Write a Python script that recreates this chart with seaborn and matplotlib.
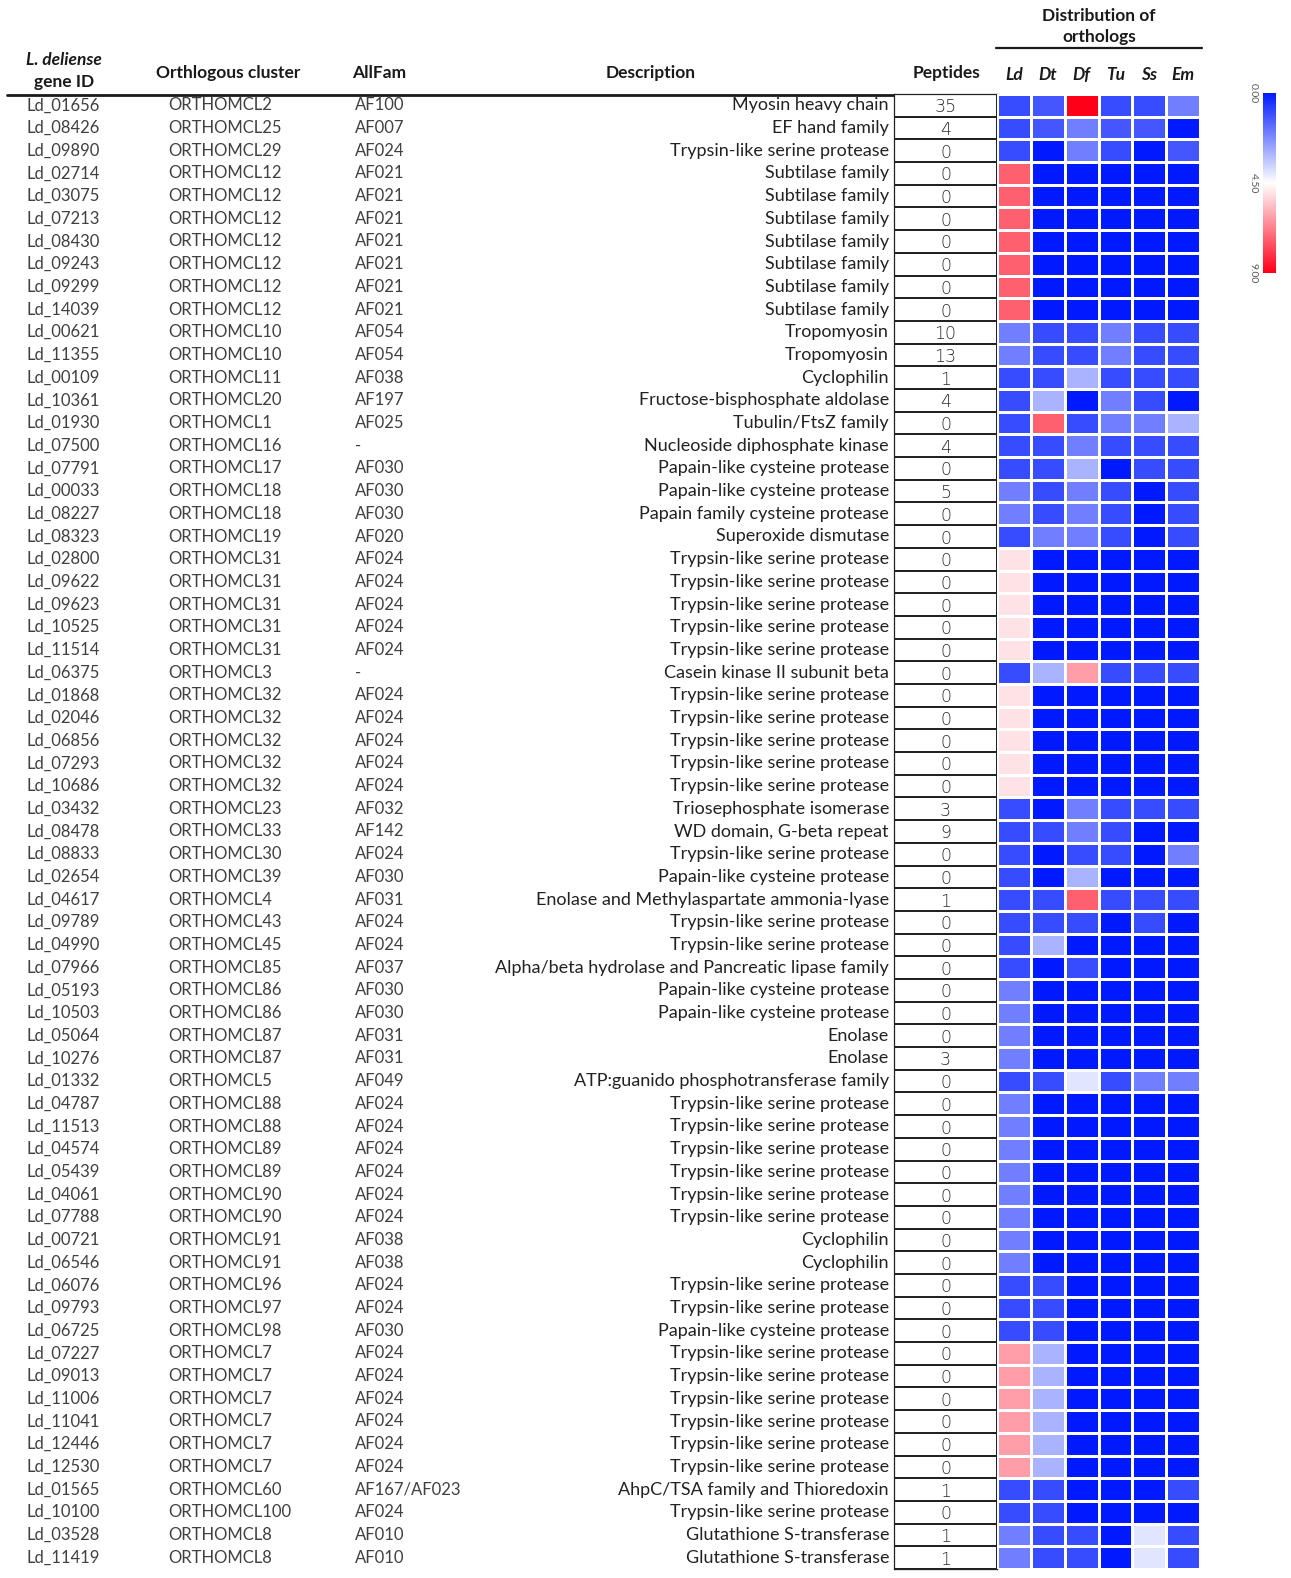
import pandas as pd
import matplotlib
matplotlib.use("Agg")
import matplotlib.pyplot as plt
from matplotlib.colors import LinearSegmentedColormap, ListedColormap
import seaborn as sns

# ---------------- Data ----------------
gene_ids = ["Ld_01656", "Ld_08426", "Ld_09890", "Ld_02714", "Ld_03075", "Ld_07213", "Ld_08430",
            "Ld_09243", "Ld_09299", "Ld_14039", "Ld_00621", "Ld_11355", "Ld_00109", "Ld_10361",
            "Ld_01930", "Ld_07500", "Ld_07791", "Ld_00033", "Ld_08227", "Ld_08323", "Ld_02800",
            "Ld_09622", "Ld_09623", "Ld_10525", "Ld_11514", "Ld_06375", "Ld_01868", "Ld_02046",
            "Ld_06856", "Ld_07293", "Ld_10686", "Ld_03432", "Ld_08478", "Ld_08833", "Ld_02654",
            "Ld_04617", "Ld_09789", "Ld_04990", "Ld_07966", "Ld_05193", "Ld_10503", "Ld_05064",
            "Ld_10276", "Ld_01332", "Ld_04787", "Ld_11513", "Ld_04574", "Ld_05439", "Ld_04061",
            "Ld_07788", "Ld_00721", "Ld_06546", "Ld_06076", "Ld_09793", "Ld_06725", "Ld_07227",
            "Ld_09013", "Ld_11006", "Ld_11041", "Ld_12446", "Ld_12530", "Ld_01565", "Ld_10100",
            "Ld_03528", "Ld_11419"]

clusters = ["ORTHOMCL2", "ORTHOMCL25", "ORTHOMCL29", "ORTHOMCL12", "ORTHOMCL12", "ORTHOMCL12",
            "ORTHOMCL12", "ORTHOMCL12", "ORTHOMCL12", "ORTHOMCL12", "ORTHOMCL10", "ORTHOMCL10",
            "ORTHOMCL11", "ORTHOMCL20", "ORTHOMCL1", "ORTHOMCL16", "ORTHOMCL17", "ORTHOMCL18",
            "ORTHOMCL18", "ORTHOMCL19", "ORTHOMCL31", "ORTHOMCL31", "ORTHOMCL31", "ORTHOMCL31",
            "ORTHOMCL31", "ORTHOMCL3", "ORTHOMCL32", "ORTHOMCL32", "ORTHOMCL32", "ORTHOMCL32",
            "ORTHOMCL32", "ORTHOMCL23", "ORTHOMCL33", "ORTHOMCL30", "ORTHOMCL39", "ORTHOMCL4",
            "ORTHOMCL43", "ORTHOMCL45", "ORTHOMCL85", "ORTHOMCL86", "ORTHOMCL86", "ORTHOMCL87",
            "ORTHOMCL87", "ORTHOMCL5", "ORTHOMCL88", "ORTHOMCL88", "ORTHOMCL89", "ORTHOMCL89",
            "ORTHOMCL90", "ORTHOMCL90", "ORTHOMCL91", "ORTHOMCL91", "ORTHOMCL96", "ORTHOMCL97",
            "ORTHOMCL98", "ORTHOMCL7", "ORTHOMCL7", "ORTHOMCL7", "ORTHOMCL7", "ORTHOMCL7",
            "ORTHOMCL7", "ORTHOMCL60", "ORTHOMCL100", "ORTHOMCL8", "ORTHOMCL8"]

allfams = ["AF100", "AF007", "AF024", "AF021", "AF021", "AF021", "AF021", "AF021", "AF021", "AF021",
           "AF054", "AF054", "AF038", "AF197", "AF025", "-", "AF030", "AF030", "AF030", "AF020",
           "AF024", "AF024", "AF024", "AF024", "AF024", "-", "AF024", "AF024", "AF024", "AF024",
           "AF024", "AF032", "AF142", "AF024", "AF030", "AF031", "AF024", "AF024", "AF037", "AF030",
           "AF030", "AF031", "AF031", "AF049", "AF024", "AF024", "AF024", "AF024", "AF024", "AF024",
           "AF038", "AF038", "AF024", "AF024", "AF030", "AF024", "AF024", "AF024", "AF024", "AF024",
           "AF024", "AF167/AF023", "AF024", "AF010", "AF010"]

tsp = "Trypsin-like serine protease"
pcp = "Papain-like cysteine protease"
sub = "Subtilase family"
descriptions = ["Myosin heavy chain", "EF hand family", tsp, sub, sub, sub, sub, sub, sub, sub,
                "Tropomyosin", "Tropomyosin", "Cyclophilin", "Fructose-bisphosphate aldolase",
                "Tubulin/FtsZ family", "Nucleoside diphosphate kinase", pcp, pcp,
                "Papain family cysteine protease", "Superoxide dismutase", tsp, tsp, tsp, tsp, tsp,
                "Casein kinase II subunit beta", tsp, tsp, tsp, tsp, tsp, "Triosephosphate isomerase",
                "WD domain, G-beta repeat", tsp, pcp, "Enolase and Methylaspartate ammonia-lyase",
                tsp, tsp, "Alpha/beta hydrolase and Pancreatic lipase family", pcp, pcp,
                "Enolase", "Enolase", "ATP:guanido phosphotransferase family", tsp, tsp, tsp, tsp,
                tsp, tsp, "Cyclophilin", "Cyclophilin", tsp, tsp, pcp, tsp, tsp, tsp, tsp, tsp, tsp,
                "AhpC/TSA family and Thioredoxin", tsp, "Glutathione S-transferase",
                "Glutathione S-transferase"]

peptides = [35, 4, 0, 0, 0, 0, 0, 0, 0, 0, 10, 13, 1, 4, 0, 4, 0, 5, 0, 0,
            0, 0, 0, 0, 0, 0, 0, 0, 0, 0, 0, 3, 9, 0, 0, 1, 0, 0, 0, 0,
            0, 0, 3, 0, 0, 0, 0, 0, 0, 0, 0, 0, 0, 0, 0, 0, 0, 0, 0, 0,
            0, 1, 0, 1, 1]

species = ["Ld", "Dt", "Df", "Tu", "Ss", "Em"]
ld = [1, 1, 1, 7.3, 7.3, 7.3, 7.3, 7.3, 7.3, 7.3, 2, 2, 1, 1, 1, 1, 1, 2, 2, 1,
      5, 5, 5, 5, 5, 1, 5, 5, 5, 5, 5, 1, 1, 1, 1, 1, 1, 1, 1, 2,
      2, 2, 2, 1, 2, 2, 2, 2, 2, 2, 2, 2, 1, 1, 1, 6.2, 6.2, 6.2, 6.2, 6.2,
      6.2, 1, 1, 2, 2]
dt = [1.2, 1.2, 0, 0, 0, 0, 0, 0, 0, 0, 1, 1, 1, 3, 7.3, 1, 1, 1, 1, 2,
      0, 0, 0, 0, 0, 3, 0, 0, 0, 0, 0, 0, 1, 0, 0, 1, 1, 3, 0, 0,
      0, 0, 0, 1, 0, 0, 0, 0, 0, 0, 0, 0, 1, 1, 1, 3, 3, 3, 3, 3,
      3, 1, 1, 1, 1]
df_ = [9, 2, 2, 0, 0, 0, 0, 0, 0, 0, 1, 1, 3, 0, 1, 2, 3, 2, 2, 2,
       0, 0, 0, 0, 0, 6.2, 0, 0, 0, 0, 0, 2, 2, 1, 3, 7.3, 1, 0, 1, 0,
       0, 0, 0, 4, 0, 0, 0, 0, 0, 0, 0, 0, 0, 0, 0, 0, 0, 0, 0, 0,
       0, 0, 0, 1, 1]
tu = [1, 1.2, 1, 0, 0, 0, 0, 0, 0, 0, 2, 2, 1, 2, 2, 1, 0, 1, 1, 1,
      0, 0, 0, 0, 0, 1, 0, 0, 0, 0, 0, 1, 1, 1, 0, 1, 0, 0, 0, 0,
      0, 0, 0, 1, 0, 0, 0, 0, 0, 0, 0, 0, 0, 0, 0, 0, 0, 0, 0, 0,
      0, 0, 0, 0, 0]
ss = [1, 1.2, 0, 0, 0, 0, 0, 0, 0, 0, 1, 1, 1, 1, 2, 1, 1, 0, 0, 0,
      0, 0, 0, 0, 0, 1, 0, 0, 0, 0, 0, 1, 0, 0, 0, 1, 1, 0, 0, 0,
      0, 0, 0, 2, 0, 0, 0, 0, 0, 0, 0, 0, 0, 0, 0, 0, 0, 0, 0, 0,
      0, 0, 0, 4, 4]
em = [2, 0, 1.2, 0, 0, 0, 0, 0, 0, 0, 1, 1, 1, 0, 3, 1, 1, 1, 1, 1,
      0, 0, 0, 0, 0, 1, 0, 0, 0, 0, 0, 1, 0, 2, 0, 1, 0, 0, 0, 0,
      0, 0, 0, 2, 0, 0, 0, 0, 0, 0, 0, 0, 0, 0, 0, 0, 0, 0, 0, 0,
      0, 1, 0, 1, 1]

heat = pd.DataFrame({"Ld": ld, "Dt": dt, "Df": df_, "Tu": tu, "Ss": ss, "Em": em}, index=gene_ids)
pep = pd.DataFrame({"Peptides": peptides}, index=gene_ids)

# ---------------- Figure ----------------
sns.set_style("white")
plt.rcParams["font.family"] = ["Lato", "DejaVu Sans"]

W, H = 1291, 1578
fig = plt.figure(figsize=(W / 100, H / 100), dpi=100)


def px(x0, y0, x1, y1):
    return [x0 / W, 1 - y1 / H, (x1 - x0) / W, (y1 - y0) / H]


top, bot = 94, 1569
hdr = fig.add_axes([0, 0, 1, 1])
hdr.set_xlim(0, W)
hdr.set_ylim(H, 0)
hdr.axis("off")

tab = fig.add_axes(px(0, top, 894, bot))
pep_ax = fig.add_axes(px(894, top, 997, bot))
hm_ax = fig.add_axes(px(997, top, 1200, bot))
cb_ax = fig.add_axes(px(1263, 93, 1276, 273))

txt = "#404040"
desc_c = "#222222"
dark = "#1a1a1a"

# headers
hdr.text(64, 60, "L. deliense", ha="center", va="center", fontsize=12.5, weight="bold", style="italic", color=dark)
hdr.text(64, 82, "gene ID", ha="center", va="center", fontsize=12.5, weight="bold", color=dark)
hdr.text(228, 73, "Orthlogous cluster", ha="center", va="center", fontsize=12.5, weight="bold", color=dark)
hdr.text(379, 73, "AllFam", ha="center", va="center", fontsize=12.5, weight="bold", color=dark)
hdr.text(651, 73, "Description", ha="center", va="center", fontsize=12.5, weight="bold", color=dark)
hdr.text(946, 73, "Peptides", ha="center", va="center", fontsize=12.5, weight="bold", color=dark)
hdr.text(1099, 16, "Distribution of", ha="center", va="center", fontsize=12.5, weight="bold", color=dark)
hdr.text(1099, 37, "orthologs", ha="center", va="center", fontsize=12.5, weight="bold", color=dark)
hdr.plot([996, 1202], [48, 48], color=dark, lw=1.6)
hdr.plot([7, 997], [95, 95], color=dark, lw=2)

# table text
n = len(gene_ids)
tab.set_xlim(0, 894)
tab.set_ylim(n, 0)
tab.axis("off")
for i in range(n):
    y = i + 0.5
    tab.text(27, y, gene_ids[i], ha="left", va="center", fontsize=12, color=txt)
    tab.text(168, y, clusters[i], ha="left", va="center", fontsize=12, color=txt)
    tab.text(355, y, allfams[i], ha="left", va="center", fontsize=12, color=txt)
    tab.text(889, y, descriptions[i], ha="right", va="center", fontsize=13, color=desc_c)

# peptides column
sns.heatmap(pep, ax=pep_ax, cmap=ListedColormap(["white"]), cbar=False, annot=True, fmt="d",
            linewidths=1.3, linecolor="#222222", xticklabels=False, yticklabels=False,
            annot_kws={"fontsize": 12.5, "color": "#2a2a2a", "fontfamily": "DejaVu Sans",
                       "fontweight": "light", "va": "center_baseline"})
for s in pep_ax.spines.values():
    s.set_visible(True)
    s.set_color("#222222")
    s.set_linewidth(0.9)

# heatmap
cmap = LinearSegmentedColormap.from_list("bwr2", ["#001aff", "#ffffff", "#ff0019"])
sns.heatmap(heat, ax=hm_ax, cmap=cmap, vmin=0, vmax=9, linewidths=2, linecolor="white",
            cbar_ax=cb_ax, cbar_kws={"ticks": [0, 4.5, 9]}, yticklabels=False)
hm_ax.tick_params(axis="x", top=True, bottom=False, labeltop=True, labelbottom=False, length=0, pad=8)
hm_ax.set_xticklabels(species, fontsize=12.5, weight="bold", style="italic", color=dark, rotation=0)

cb = hm_ax.collections[0].colorbar
cb.outline.set_visible(False)
cb_ax.invert_yaxis()
cb_ax.yaxis.set_ticks_position("left")
cb_ax.tick_params(length=0, pad=4)
cb_ax.set_yticklabels(["0.00", "4.50", "9.00"], rotation=270, fontsize=7.5, color="#555555", va="center")

fig.savefig("out.png", dpi=100)
